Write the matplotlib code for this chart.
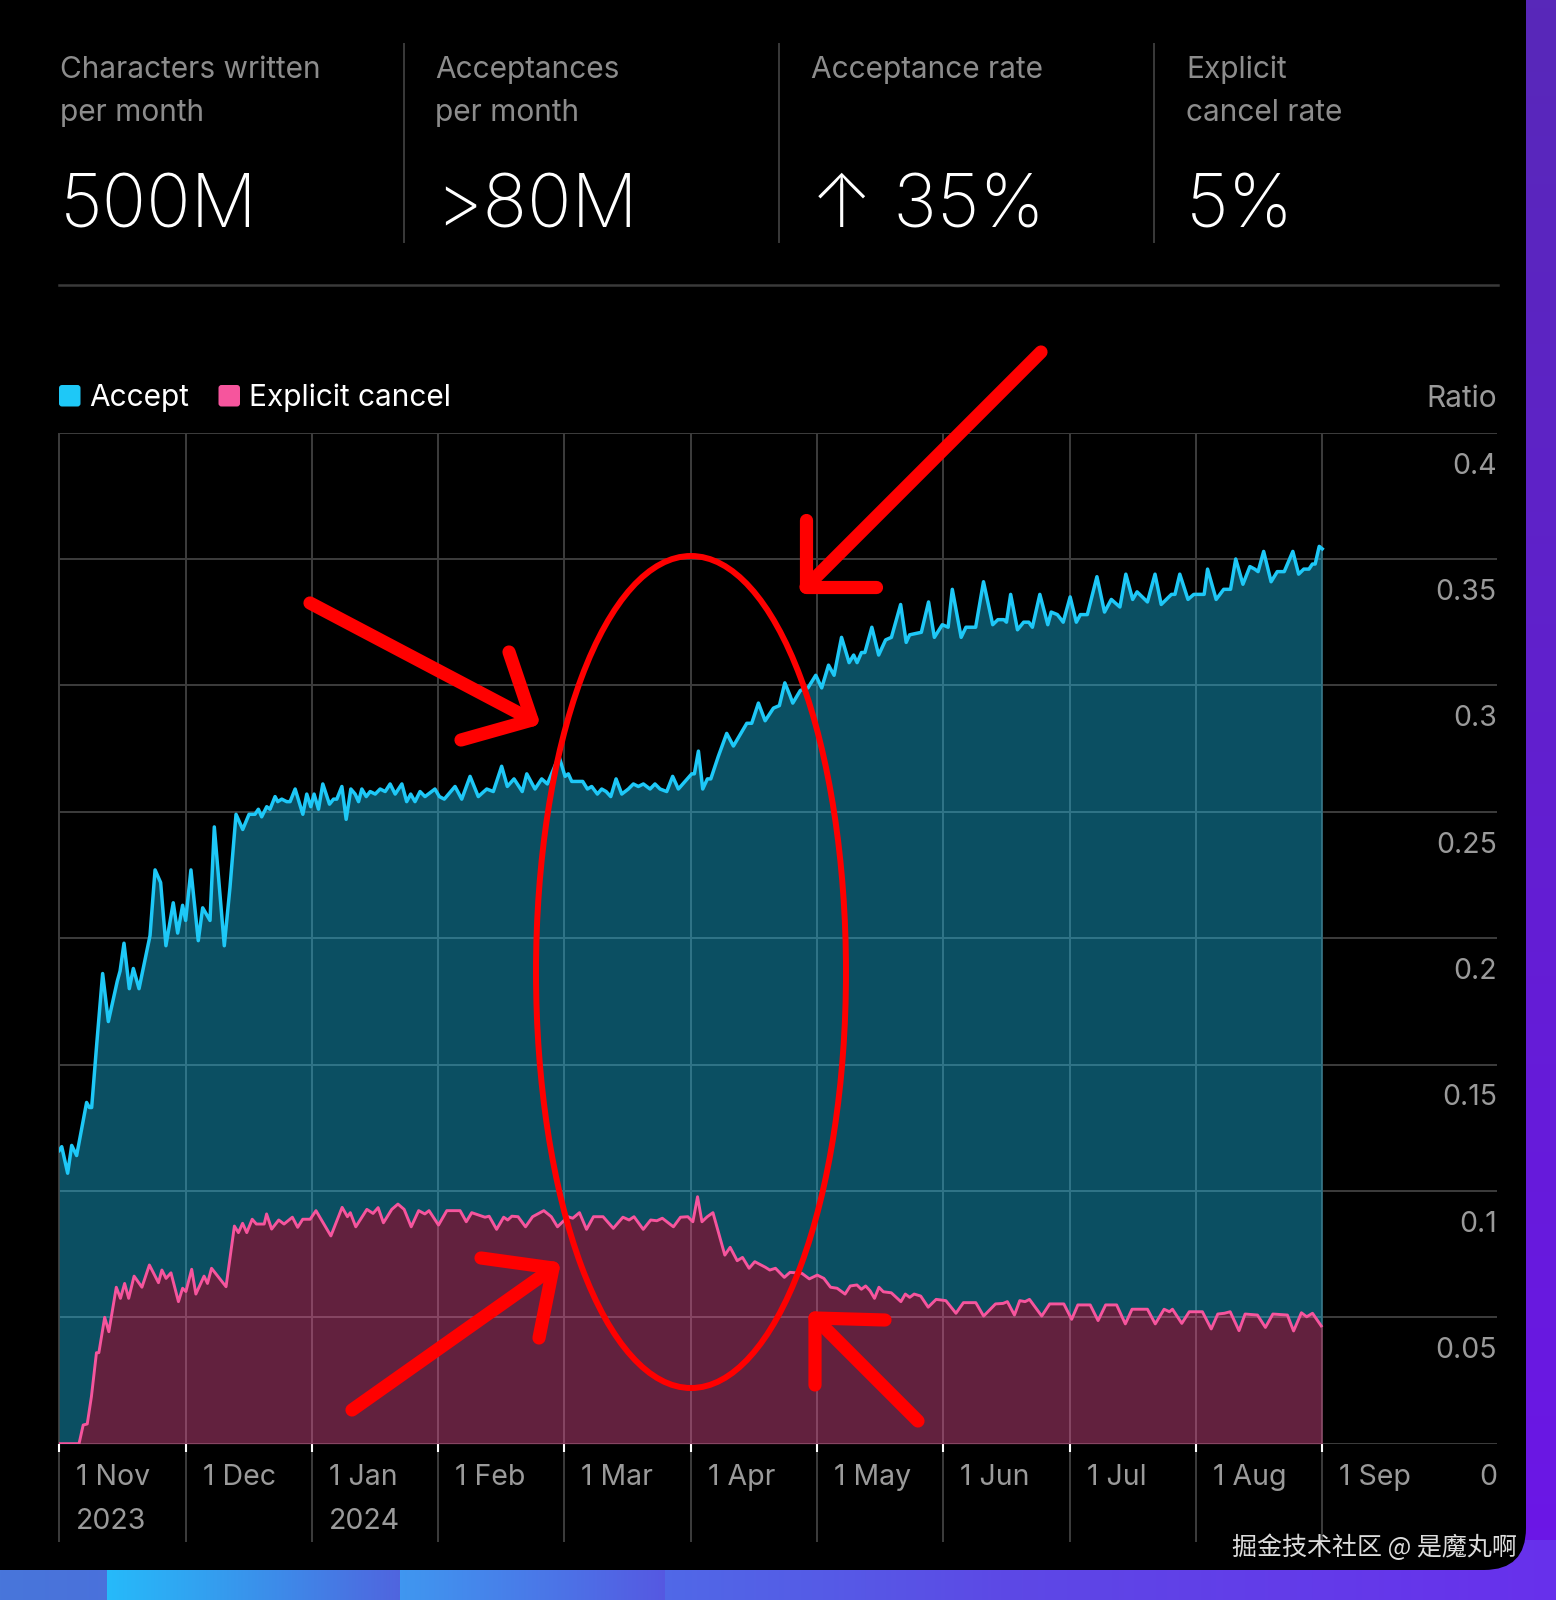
import numpy as np
import matplotlib.pyplot as plt
from matplotlib.patches import Ellipse, FancyBboxPatch
from matplotlib.transforms import blended_transform_factory

plt.rcParams['font.family'] = ['Inter', 'DejaVu Sans']

W, H = 1556, 1600

# x axis: months since 1 Nov 2023 (the source chart spaces months evenly)
month_labels = ['1 Nov', '1 Dec', '1 Jan', '1 Feb', '1 Mar', '1 Apr',
                '1 May', '1 Jun', '1 Jul', '1 Aug', '1 Sep']
year_labels = {0: '2023', 2: '2024'}
y_ticks = [0, 0.05, 0.1, 0.15, 0.2, 0.25, 0.3, 0.35, 0.4]
y_tick_labels = ['0', '0.05', '0.1', '0.15', '0.2', '0.25', '0.3', '0.35', '0.4']

stat_titles = ['Characters written\nper month', 'Acceptances\nper month',
               'Acceptance rate', 'Explicit\ncancel rate']
stat_values = ['500M', '>80M', '\u2191 35%', '5%']

# Accept ratio (vertices)
accept_t = [0.000, 0.020, 0.067, 0.099, 0.138, 0.217, 0.239, 0.257, 0.297, 0.344,
            0.389, 0.460, 0.482, 0.513, 0.555, 0.587, 0.632, 0.719, 0.759, 0.803,
            0.845, 0.903, 0.938, 0.977, 1.001, 1.043, 1.101, 1.136, 1.194, 1.228,
            1.307, 1.352, 1.400, 1.453, 1.503, 1.550, 1.577, 1.603, 1.643, 1.669,
            1.709, 1.730, 1.762, 1.801, 1.828, 1.868, 1.929, 1.960, 1.992, 2.018,
            2.053, 2.087, 2.140, 2.172, 2.198, 2.238, 2.272, 2.309, 2.343, 2.370,
            2.396, 2.431, 2.462, 2.502, 2.541, 2.581, 2.620, 2.660, 2.713, 2.751,
            2.783, 2.817, 2.857, 2.896, 2.975, 3.010, 3.049, 3.134, 3.187, 3.253,
            3.318, 3.385, 3.437, 3.503, 3.548, 3.601, 3.666, 3.702, 3.767, 3.820,
            3.865, 3.957, 4.005, 4.031, 4.058, 4.111, 4.145, 4.182, 4.216, 4.261,
            4.295, 4.330, 4.367, 4.409, 4.454, 4.506, 4.546, 4.585, 4.625, 4.678,
            4.717, 4.757, 4.810, 4.857, 4.902, 4.955, 5.008, 5.029, 5.061, 5.095,
            5.132, 5.159, 5.219, 5.285, 5.338, 5.444, 5.483, 5.536, 5.589, 5.655,
            5.702, 5.745, 5.786, 5.808, 5.868, 5.928, 5.990, 6.037, 6.091, 6.135,
            6.194, 6.254, 6.290, 6.317, 6.352, 6.379, 6.434, 6.488, 6.543, 6.589,
            6.662, 6.706, 6.733, 6.826, 6.883, 6.929, 6.992, 7.038, 7.071, 7.141,
            7.179, 7.256, 7.318, 7.391, 7.432, 7.479, 7.500, 7.533, 7.587, 7.636,
            7.677, 7.705, 7.764, 7.827, 7.854, 7.903, 7.949, 8.004, 8.053, 8.085,
            8.140, 8.216, 8.276, 8.330, 8.398, 8.445, 8.499, 8.534, 8.616, 8.676,
            8.725, 8.806, 8.834, 8.872, 8.937, 8.983, 9.038, 9.065, 9.092, 9.160,
            9.220, 9.274, 9.315, 9.372, 9.427, 9.465, 9.492, 9.536, 9.595, 9.644,
            9.699, 9.767, 9.813, 9.854, 9.895, 9.922, 9.944, 9.976, 10.000]
accept_v = [0.116, 0.1175, 0.107, 0.118, 0.114, 0.135, 0.133, 0.133, 0.158, 0.186,
            0.167, 0.183, 0.187, 0.198, 0.180, 0.188, 0.180, 0.201, 0.227, 0.222,
            0.197, 0.214, 0.202, 0.213, 0.207, 0.227, 0.199, 0.212, 0.207, 0.244,
            0.197, 0.220, 0.249, 0.243, 0.249, 0.249, 0.251, 0.248, 0.252, 0.251,
            0.256, 0.254, 0.255, 0.254, 0.254, 0.259, 0.249, 0.257, 0.252, 0.257,
            0.251, 0.261, 0.253, 0.255, 0.255, 0.260, 0.247, 0.259, 0.257, 0.254,
            0.259, 0.256, 0.258, 0.257, 0.259, 0.258, 0.261, 0.257, 0.261, 0.254,
            0.257, 0.254, 0.258, 0.256, 0.259, 0.256, 0.255, 0.260, 0.255, 0.264,
            0.256, 0.259, 0.258, 0.268, 0.260, 0.263, 0.258, 0.265, 0.259, 0.263,
            0.261, 0.272, 0.264, 0.265, 0.262, 0.262, 0.262, 0.259, 0.260, 0.257,
            0.259, 0.258, 0.256, 0.263, 0.257, 0.259, 0.261, 0.260, 0.261, 0.259,
            0.261, 0.259, 0.258, 0.264, 0.259, 0.262, 0.265, 0.265, 0.274, 0.259,
            0.263, 0.263, 0.272, 0.281, 0.276, 0.285, 0.285, 0.293, 0.286, 0.291,
            0.292, 0.301, 0.296, 0.293, 0.298, 0.299, 0.304, 0.299, 0.308, 0.304,
            0.319, 0.309, 0.312, 0.309, 0.313, 0.313, 0.323, 0.312, 0.318, 0.319,
            0.332, 0.317, 0.320, 0.321, 0.333, 0.319, 0.324, 0.323, 0.338, 0.319,
            0.323, 0.323, 0.341, 0.324, 0.326, 0.326, 0.325, 0.336, 0.322, 0.325,
            0.325, 0.323, 0.336, 0.324, 0.329, 0.328, 0.325, 0.335, 0.325, 0.328,
            0.328, 0.343, 0.329, 0.334, 0.331, 0.344, 0.334, 0.337, 0.333, 0.344,
            0.332, 0.336, 0.336, 0.344, 0.334, 0.336, 0.336, 0.336, 0.346, 0.334,
            0.338, 0.338, 0.350, 0.340, 0.347, 0.346, 0.345, 0.353, 0.341, 0.345,
            0.345, 0.353, 0.344, 0.346, 0.346, 0.348, 0.348, 0.355, 0.354]

# Explicit cancel ratio
cancel_t = [0.000, 0.157, 0.190, 0.222, 0.255, 0.295, 0.314, 0.360, 0.393, 0.452,
            0.485, 0.518, 0.550, 0.593, 0.655, 0.714, 0.786, 0.813, 0.846, 0.885,
            0.944, 0.977, 1.003, 1.049, 1.082, 1.147, 1.174, 1.206, 1.321, 1.387,
            1.419, 1.452, 1.485, 1.528, 1.561, 1.623, 1.642, 1.682, 1.738, 1.780,
            1.846, 1.888, 1.928, 1.987, 2.033, 2.092, 2.151, 2.240, 2.282, 2.305,
            2.348, 2.436, 2.485, 2.525, 2.567, 2.633, 2.682, 2.731, 2.787, 2.846,
            2.895, 2.928, 3.003, 3.069, 3.174, 3.223, 3.266, 3.371, 3.404, 3.463,
            3.519, 3.551, 3.584, 3.633, 3.692, 3.748, 3.837, 3.896, 3.945, 4.028,
            4.066, 4.119, 4.175, 4.230, 4.306, 4.387, 4.463, 4.512, 4.551, 4.624,
            4.683, 4.732, 4.775, 4.863, 4.919, 4.977, 5.017, 5.054, 5.089, 5.131,
            5.176, 5.270, 5.312, 5.368, 5.410, 5.462, 5.507, 5.591, 5.626, 5.671,
            5.741, 5.786, 5.880, 5.939, 6.002, 6.054, 6.107, 6.159, 6.222, 6.263,
            6.316, 6.351, 6.385, 6.420, 6.455, 6.490, 6.525, 6.588, 6.664, 6.699,
            6.734, 6.769, 6.821, 6.880, 6.943, 7.020, 7.100, 7.159, 7.257, 7.319,
            7.413, 7.473, 7.507, 7.563, 7.605, 7.647, 7.682, 7.779, 7.842, 7.954,
            8.016, 8.065, 8.163, 8.225, 8.285, 8.372, 8.441, 8.494, 8.616, 8.678,
            8.748, 8.790, 8.814, 8.888, 8.947, 9.051, 9.121, 9.173, 9.225, 9.271,
            9.341, 9.389, 9.487, 9.550, 9.609, 9.724, 9.773, 9.835, 9.877, 9.923,
            9.992]
cancel_v = [0.0, 0.0, 0.0074, 0.0078, 0.0186, 0.036, 0.036, 0.050, 0.0443, 0.0619,
            0.0575, 0.0634, 0.0575, 0.0663, 0.0619, 0.0707, 0.0637, 0.0687, 0.0654, 0.0676,
            0.0562, 0.0615, 0.0602, 0.069, 0.0592, 0.0663, 0.0634, 0.0694, 0.0621, 0.0861,
            0.0835, 0.0872, 0.0835, 0.0888, 0.0869, 0.0869, 0.0909, 0.0849, 0.0885, 0.0869,
            0.0896, 0.0856, 0.0888, 0.0888, 0.0922, 0.0872, 0.0822, 0.0935, 0.0898, 0.0914,
            0.0858, 0.0927, 0.0911, 0.0934, 0.0874, 0.0927, 0.0948, 0.0927, 0.0858, 0.0922,
            0.0909, 0.0922, 0.0865, 0.0922, 0.0922, 0.0878, 0.0914, 0.0896, 0.0900, 0.0848,
            0.0896, 0.0885, 0.0900, 0.0898, 0.0858, 0.0898, 0.0922, 0.0898, 0.0858, 0.0898,
            0.0892, 0.0914, 0.0848, 0.0898, 0.0898, 0.0852, 0.0896, 0.0885, 0.0898, 0.0848,
            0.0885, 0.0882, 0.0892, 0.0858, 0.0896, 0.0898, 0.0878, 0.0977, 0.0878, 0.0898,
            0.0914, 0.0746, 0.0777, 0.0724, 0.0737, 0.0694, 0.0720, 0.0698, 0.0687, 0.0694,
            0.0658, 0.0678, 0.0674, 0.0652, 0.0667, 0.0654, 0.0619, 0.0615, 0.0592, 0.0624,
            0.0628, 0.0611, 0.0624, 0.0605, 0.0575, 0.0619, 0.0601, 0.0597, 0.0562, 0.0592,
            0.0579, 0.0592, 0.0584, 0.0540, 0.0571, 0.0566, 0.0516, 0.0558, 0.0558, 0.0505,
            0.0553, 0.0555, 0.0562, 0.0509, 0.0566, 0.0562, 0.0571, 0.0505, 0.0553, 0.0553,
            0.0492, 0.0549, 0.0549, 0.0487, 0.0549, 0.0549, 0.0474, 0.0532, 0.0532, 0.0474,
            0.0532, 0.0522, 0.0532, 0.0476, 0.0522, 0.0522, 0.0454, 0.0513, 0.0516, 0.0522,
            0.0447, 0.0513, 0.0509, 0.0460, 0.0513, 0.0509, 0.0446, 0.0518, 0.0502, 0.0516,
            0.0466]

CYAN = '#1ec8f7'
PINK = '#f6559d'
GRID = '#3d3d3d'
GREY = '#9a9a9a'

fig = plt.figure(figsize=(W / 100, H / 100), dpi=100, facecolor='black')

# ---- background: purple side strip, blue bottom strip, black card ----
bg = fig.add_axes([0, 0, 1, 1], zorder=0)
yy = np.linspace(0, 1, 200)[:, None, None]
side = np.array([88, 40, 185]) / 255 + (np.array([108, 22, 232]) - np.array([88, 40, 185])) / 255 * yy
bg.imshow(side, extent=(1490, W, H, 0), aspect='auto')

xx = np.arange(W, dtype=float)
base = np.stack([np.interp(xx, [0, W], [72, 104]),
                 np.interp(xx, [0, W], [118, 48]),
                 np.interp(xx, [0, W], [218, 236])], axis=1)
bands = [(107, 400, 1.0, (38, 186, 250)), (400, 665, 0.75, (58, 168, 246)),
         (665, 1000, 0.35, (70, 135, 242))]
for a, b, k, c in bands:
    m = (xx >= a) & (xx < b)
    f = (k * (1 - (xx - a) / (b - a)))[m][:, None]
    base[m] = base[m] * (1 - f) + np.array(c) * f
bottom = (base / 255)[None, :, :].repeat(10, axis=0)
bg.imshow(bottom, extent=(0, W, H, 1540), aspect='auto')

bg.add_patch(FancyBboxPatch((-100, -100), 1626, 1670,
                            boxstyle='round,pad=0,rounding_size=42',
                            fc='black', ec='none', zorder=3))
bg.set_xlim(0, W)
bg.set_ylim(H, 0)
bg.axis('off')

# ---- main chart ----
ax = fig.add_axes([59.2 / W, 1 - 1443.7 / H, (1496.8 - 59.2) / W, (1443.7 - 432.6) / H],
                  zorder=2)
ax.set_facecolor('none')
ax.set_xlim(0, 11.382)
ax.set_ylim(0, 0.4)
for s in ax.spines.values():
    s.set_visible(False)

for yv in y_ticks:
    ax.axhline(yv, color=GRID, lw=1.4, zorder=1)
ax.vlines(range(len(month_labels)), -0.0388, 0.4, color=GRID, lw=1.4,
          clip_on=False, zorder=1)

t_all = np.union1d(accept_t, cancel_t)
acc_all = np.interp(t_all, accept_t, accept_v)
can_all = np.interp(t_all, cancel_t, cancel_v)
ax.fill_between(t_all, can_all, acc_all, color=CYAN, alpha=0.4, lw=0, zorder=2)
ax.fill_between(t_all, 0, can_all, color=PINK, alpha=0.4, lw=0, zorder=2)
ax.plot(accept_t, accept_v, color=CYAN, lw=2.5, zorder=4)
ax.plot(cancel_t, cancel_v, color=PINK, lw=2.1, zorder=4)

ax.set_xticks(range(len(month_labels)))
ax.set_xticklabels([])
ax.set_yticks([])
ax.tick_params(axis='x', length=6, width=1.5, color='white', direction='out')

for i, lab in enumerate(month_labels):
    ax.text(i + 17 / 126.3, -0.0163, lab, ha='left', va='baseline',
            color=GREY, fontsize=20.5, clip_on=False)
    if i in year_labels:
        ax.text(i + 17 / 126.3, -0.0337, year_labels[i], ha='left', va='baseline',
                color=GREY, fontsize=20.5, clip_on=False)

tr = blended_transform_factory(ax.transAxes, ax.transData)
for yv, lab in zip(y_ticks, y_tick_labels):
    ax.text(1.0, yv - 0.0162, lab, transform=tr, ha='right', va='baseline',
            color=GREY, fontsize=20.5)

# ---- overlay in pixel coordinates: header, legend, annotations ----
ov = fig.add_axes([0, 0, 1, 1], zorder=5)
ov.set_xlim(0, W)
ov.set_ylim(H, 0)
ov.axis('off')
ov.patch.set_alpha(0)

col_x = [60, 435, 811, 1186]
for x0, title, val in zip(col_x, stat_titles, stat_values):
    lines = title.split('\n')
    for j, ln in enumerate(lines):
        ov.text(x0, 78 + 43 * j, ln, ha='left', va='baseline', color='#8c8c8c',
                fontsize=21.5)
    ov.text(x0, 227, val, ha='left', va='baseline', color='white',
            fontsize=53, fontweight='light')
for sx in [404, 779, 1154]:
    ov.plot([sx, sx], [44, 242], color='#3a3a3a', lw=1.4)
ov.plot([59, 1498], [285, 285], color='#3a3a3a', lw=1.8)

ov.add_patch(FancyBboxPatch((59, 385), 21.5, 21.5, boxstyle='round,pad=0,rounding_size=3',
                            fc=CYAN, ec='none'))
ov.text(89, 406.5, 'Accept', ha='left', va='baseline', color='white', fontsize=21.5)
ov.add_patch(FancyBboxPatch((218.5, 385), 21.5, 21.5, boxstyle='round,pad=0,rounding_size=3',
                            fc=PINK, ec='none'))
ov.text(249, 406.5, 'Explicit cancel', ha='left', va='baseline', color='white', fontsize=21.5)
ov.text(1497, 407, 'Ratio', ha='right', va='baseline', color=GREY, fontsize=21.5)

# red hand-drawn marks
RED = '#ff0000'
ov.add_patch(Ellipse((691, 972), 310, 832, fill=False, ec=RED, lw=4.3))
arrows = [
    [(1041, 352), (806, 587), (806, 520), (806, 587), (876, 587)],
    [(310, 603), (532, 720), (509, 652), (532, 720), (461, 740)],
    [(352, 1410), (553, 1268), (481, 1258), (553, 1268), (539, 1338)],
    [(918, 1421), (815, 1318), (815, 1385), (815, 1318), (885, 1320)],
]
for pts in arrows:
    xs = [p[0] for p in pts]
    ys = [p[1] for p in pts]
    ov.plot(xs[:2], ys[:2], color=RED, lw=9.5, solid_capstyle='round')
    ov.plot(xs[2:], ys[2:], color=RED, lw=9.5, solid_capstyle='round',
            solid_joinstyle='round')

ov.text(1517, 1555, '掘金技术社区 @ 是魔丸啊', ha='right', va='baseline',
        color='#dcdcdc', fontsize=18, family=['Noto Sans CJK SC', 'DejaVu Sans'])

fig.savefig('out.png', dpi=100, facecolor='black')
